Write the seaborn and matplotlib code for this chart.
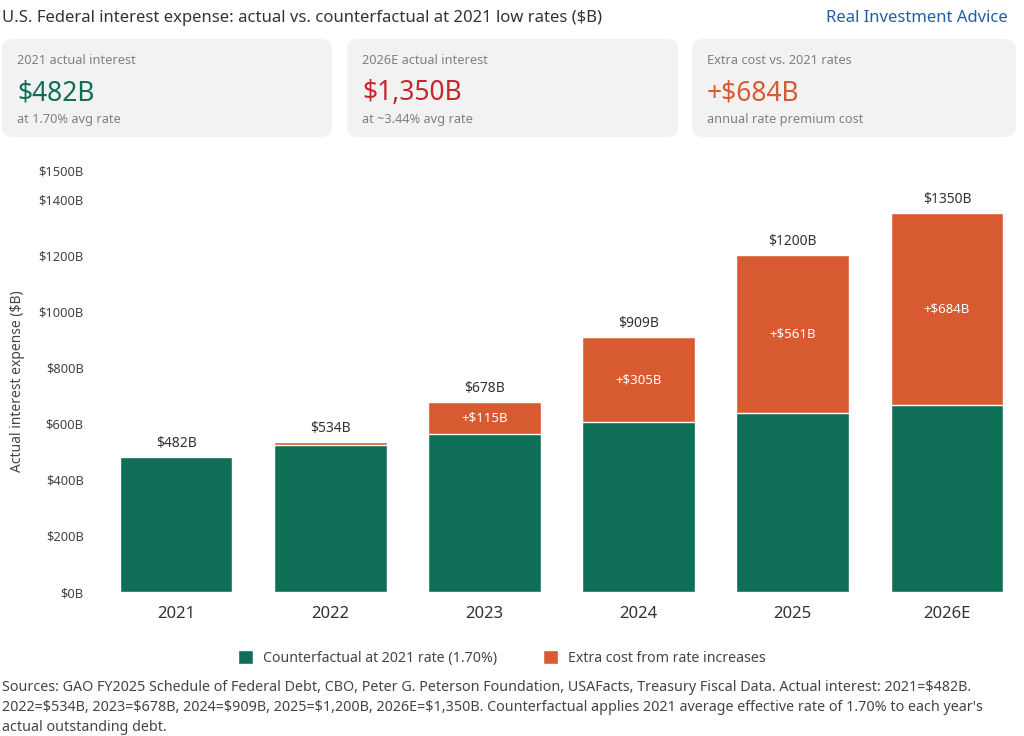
import matplotlib
matplotlib.use("Agg")
import matplotlib.pyplot as plt
from matplotlib.patches import FancyBboxPatch, Patch
import pandas as pd
import seaborn as sns

# chart data
years = ["2021", "2022", "2023", "2024", "2025", "2026E"]
actual = [482, 534, 678, 909, 1200, 1350]
counterfactual = [482, 524, 563, 604, 639, 666]
extra = [0, 10, 115, 305, 561, 684]

y_ticks = [0, 200, 400, 600, 800, 1000, 1200, 1400, 1500]
y_tick_labels = ["$0B", "$200B", "$400B", "$600B", "$800B", "$1000B", "$1200B", "$1400B", "$1500B"]

card_titles = ["2021 actual interest", "2026E actual interest", "Extra cost vs. 2021 rates"]
card_values = ["$482B", "$1,350B", "+$684B"]
card_subs = ["at 1.70% avg rate", "at ~3.44% avg rate", "annual rate premium cost"]

GREEN = "#0F6E56"
ORANGE = "#D85A30"
RED = "#C4282D"
card_colors = [GREEN, RED, ORANGE]

sns.set_style("white")
plt.rcParams["font.family"] = ["Noto Sans", "DejaVu Sans"]

df = pd.DataFrame({"year": years, "actual": actual, "counterfactual": counterfactual, "extra": extra})

fig = plt.figure(figsize=(10.24, 7.36), dpi=100)

# header
fig.text(2 / 1024, 1 - 18 / 736, "U.S. Federal interest expense: actual vs. counterfactual at 2021 low rates ($B)",
         fontsize=12, color="#333333", va="center", ha="left")
fig.text(1008 / 1024, 1 - 18 / 736, "Real Investment Advice", fontsize=12, color="#1F5FA8",
         fontweight="bold", va="center", ha="right")

# metric cards
card_x = [2, 347, 692]
card_w = [330, 331, 324]
for i in range(3):
    x0 = card_x[i] / 1024
    box = FancyBboxPatch((x0, 1 - 137 / 736), card_w[i] / 1024, 98 / 736,
                         boxstyle="round,pad=0,rounding_size=0.012",
                         transform=fig.transFigure, facecolor="#F2F2F2", edgecolor="none", zorder=0)
    fig.patches.append(box)
    tx = x0 + 15 / 1024
    fig.text(tx, 1 - 61 / 736, card_titles[i], fontsize=9.2, color="#808080", va="center")
    fig.text(tx, 1 - 93 / 736, card_values[i], fontsize=19, color=card_colors[i], va="center",
             fontweight="semibold")
    fig.text(tx, 1 - 119 / 736, card_subs[i], fontsize=9.2, color="#808080", va="center")

# bars
ax = fig.add_axes([99 / 1024, 1 - 592 / 736, 925 / 1024, 421 / 736])
sns.barplot(data=df, x="year", y="actual", color=ORANGE, width=0.73, saturation=1, ax=ax)
sns.barplot(data=df, x="year", y="counterfactual", color=GREEN, width=0.73, saturation=1, ax=ax)

ax.set_ylim(0, 1500)
ax.set_xlim(-0.5, len(years) - 0.5)
ax.set_yticks(y_ticks)
ax.set_yticklabels(y_tick_labels, fontsize=9.3, color="#444444")
ax.tick_params(axis="x", labelsize=12, labelcolor="#333333", length=0, pad=10)
ax.tick_params(axis="y", length=0, pad=11)
ax.set_xlabel("")
ax.set_ylabel("Actual interest expense ($B)", fontsize=10, color="#444444", labelpad=10)
sns.despine(ax=ax, left=True, bottom=True)

for i, yr in enumerate(years):
    ax.text(i, actual[i] + 22, f"${actual[i]}B", ha="center", va="bottom", fontsize=10,
            color="#333333")
    if extra[i] > 50:
        ax.text(i, counterfactual[i] + extra[i] / 2, f"+${extra[i]}B", ha="center", va="center",
                fontsize=9.5, color="white", fontweight="bold")

# legend
handles = [Patch(facecolor=GREEN, label="Counterfactual at 2021 rate (1.70%)"),
           Patch(facecolor=ORANGE, label="Extra cost from rate increases")]
fig.legend(handles=handles, loc="center", bbox_to_anchor=(502 / 1024, 1 - 658 / 736), ncol=2,
           frameon=False, fontsize=10.2, handlelength=1.1, handleheight=1.1, columnspacing=3.2,
           handletextpad=0.7, labelcolor="#444444")

# footer
footer = ("Sources: GAO FY2025 Schedule of Federal Debt, CBO, Peter G. Peterson Foundation, USAFacts, Treasury Fiscal Data. Actual interest: 2021=$482B.\n"
          "2022=$534B, 2023=$678B, 2024=$909B, 2025=$1,200B, 2026E=$1,350B. Counterfactual applies 2021 average effective rate of 1.70% to each year's\n"
          "actual outstanding debt.")
fig.text(2 / 1024, 1 - 680 / 736, footer, fontsize=10.3, color="#444444", va="top", ha="left",
         linespacing=1.45)

fig.savefig("out.png", dpi=100)
